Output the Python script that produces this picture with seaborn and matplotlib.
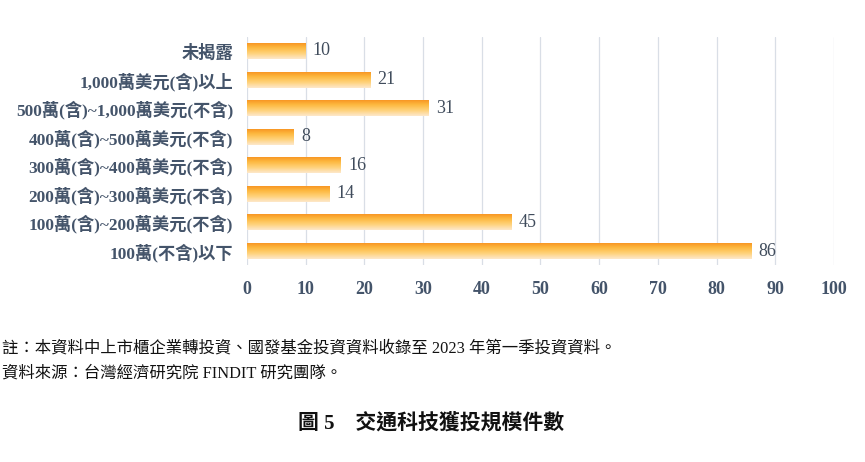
import numpy as np
import pandas as pd
import matplotlib.pyplot as plt
import seaborn as sns
from matplotlib.colors import LinearSegmentedColormap

# data
categories = ["未揭露", "1,000萬美元(含)以上", "500萬(含)~1,000萬美元(不含)",
              "400萬(含)~500萬美元(不含)", "300萬(含)~400萬美元(不含)",
              "200萬(含)~300萬美元(不含)", "100萬(含)~200萬美元(不含)",
              "100萬(不含)以下"]
counts = [10, 21, 31, 8, 16, 14, 45, 86]
x_ticks = [0, 10, 20, 30, 40, 50, 60, 70, 80, 90, 100]

df = pd.DataFrame({"category": categories, "count": counts})

sns.set_style("white")
serif_cjk = ["Liberation Serif", "Noto Sans CJK TC"]
plt.rcParams["font.family"] = serif_cjk

fig = plt.figure(figsize=(8.65, 4.62), dpi=100)
ax = fig.add_axes([0.2855, 0.4257, 0.6786, 0.4949])

sns.barplot(data=df, y="category", x="count", orient="h", ax=ax,
            width=0.56, color="#F7941D", saturation=1, zorder=2)

# gradient fill: dark orange on top, pale at bottom
grad = LinearSegmentedColormap.from_list(
    "bar_grad", ["#F7901E", "#FDB940", "#FFD27A", "#FDE8CC"])
g = np.linspace(0, 1, 64).reshape(-1, 1)
for p in ax.patches:
    x0, y0 = p.get_x(), p.get_y()
    w, h = p.get_width(), p.get_height()
    p.set_facecolor("none")
    p.set_edgecolor("none")
    im = ax.imshow(g, cmap=grad, aspect="auto", zorder=2,
                   extent=[x0, x0 + w, y0 + h, y0], interpolation="bicubic")
    im.set_clip_path(p)
    ax.text(x0 + w + 1.2, y0 + h / 2, f"{int(w)}", va="center", ha="left",
            fontsize=13, color="#404C5C", family="Liberation Serif")

ax.set_xlim(0, 100)
ax.set_ylim(7.5, -0.5)
ax.set_xticks(x_ticks)
ax.xaxis.grid(True, color="#D9DEE6", linewidth=0.9, zorder=0)
ax.set_axisbelow(True)
for s in ax.spines.values():
    s.set_visible(False)
ax.tick_params(axis="both", length=0)
ax.tick_params(axis="x", pad=11)
ax.tick_params(axis="y", pad=10)
for lab in ax.get_xticklabels():
    lab.set_fontweight("bold")
    lab.set_fontsize(13)
    lab.set_color("#44546A")
    lab.set_family("Liberation Serif")
for lab in ax.get_yticklabels():
    lab.set_fontweight("bold")
    lab.set_fontsize(12.4)
    lab.set_color("#44546A")
    lab.set_family(serif_cjk)
ax.set_xlabel("")
ax.set_ylabel("")

fig.text(0.002, 1 - 349 / 462, "註：本資料中上市櫃企業轉投資、國發基金投資資料收錄至 2023 年第一季投資資料。",
         fontsize=11.8, va="center", ha="left", color="#111111",
         family=["Liberation Serif", "Noto Sans CJK TC"])
fig.text(0.002, 1 - 374 / 462, "資料來源：台灣經濟研究院 FINDIT 研究團隊。",
         fontsize=11.8, va="center", ha="left", color="#111111",
         family=["Liberation Serif", "Noto Sans CJK TC"])
fig.text(0.4985, 1 - 423 / 462, "圖 5　交通科技獲投規模件數",
         fontsize=15, va="center", ha="center", fontweight="bold", color="#111111",
         family=["Liberation Serif", "Noto Sans CJK TC"])

fig.savefig("out.png", dpi=100)
